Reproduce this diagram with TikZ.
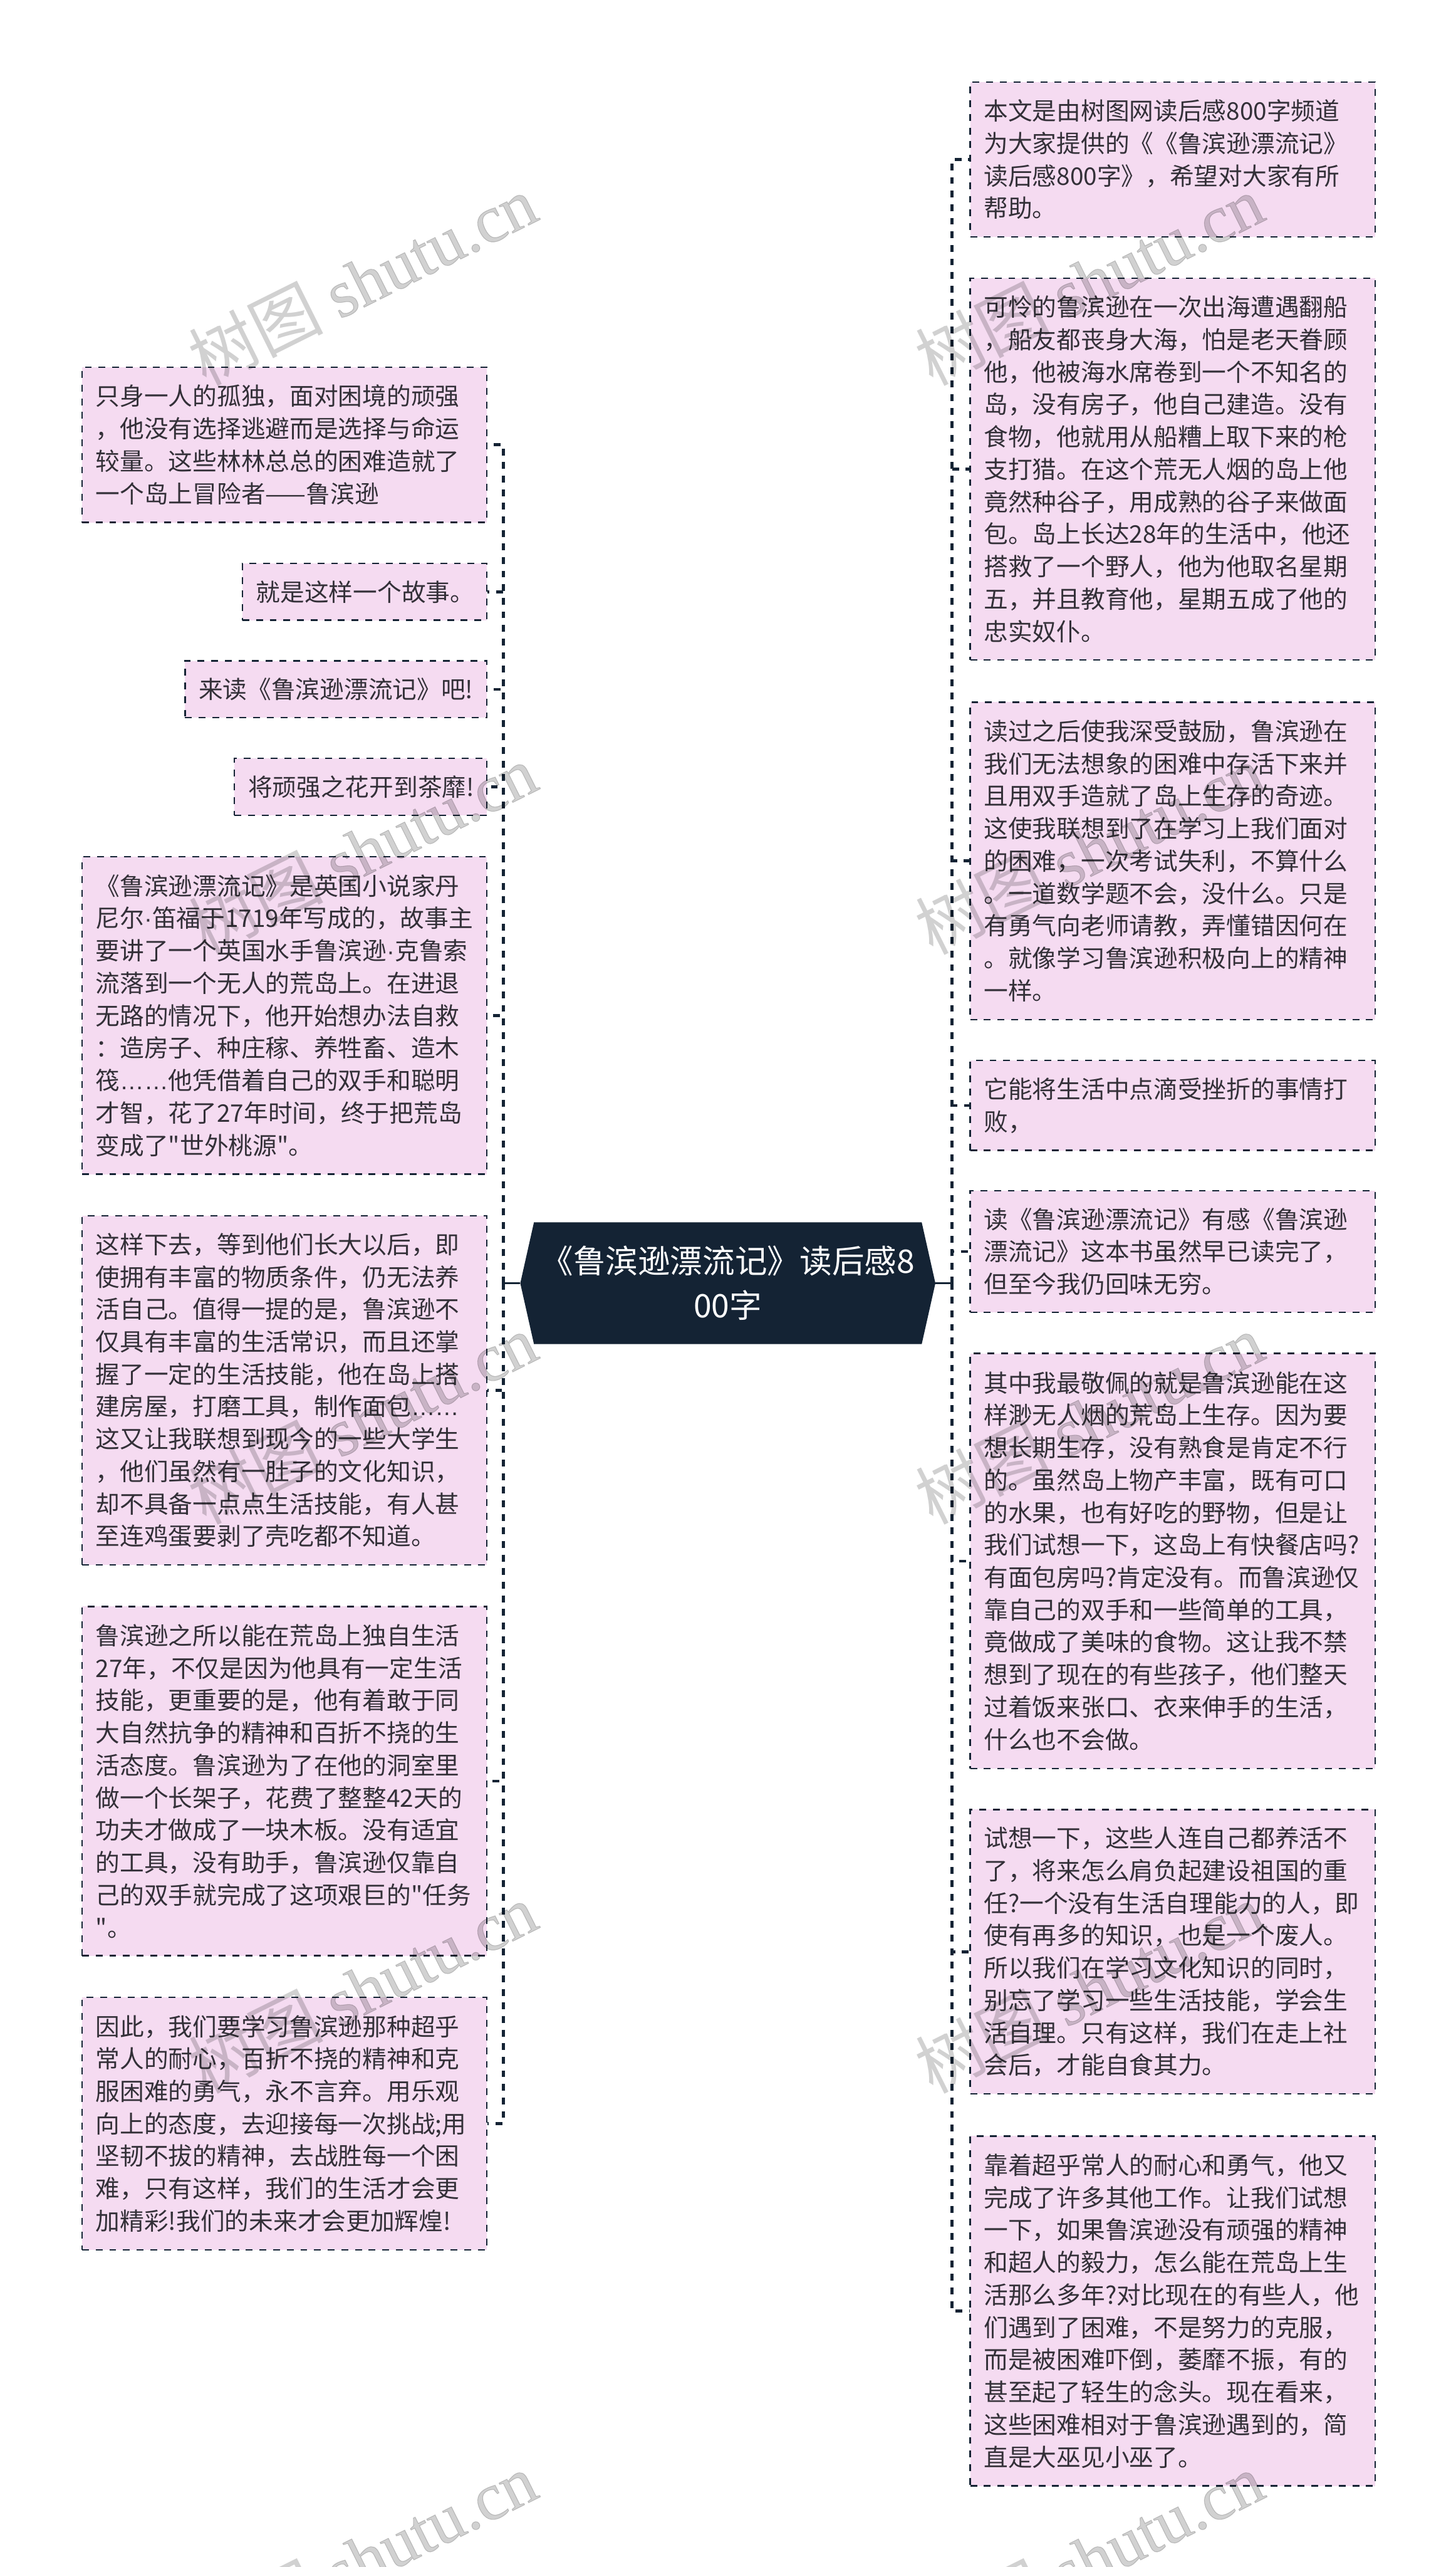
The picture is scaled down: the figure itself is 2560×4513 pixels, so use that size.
\documentclass[tikz,border=0pt]{standalone}
\usepackage{fontspec}
\newfontfamily\cjkf{Noto Sans CJK SC}
\newfontfamily\latinf{Liberation Sans}
\newfontfamily\wmlatin[FakeBold=1]{Liberation Serif}
\usetikzlibrary{shapes.symbols}
\definecolor{boxfill}{HTML}{F5DBF1}
\definecolor{navy}{HTML}{142334}
\definecolor{bodytext}{HTML}{333038}
\newcommand{\elip}{{\latinf ……}}
\newcommand{\mdot}{{\latinf ·}}
\tikzset{
  x=0.5pt,y=-0.5pt,
  leaf/.style={draw=navy,fill=boxfill,line width=1.35pt,dash pattern=on 6pt off 6pt,
    rectangle,anchor=north west,inner xsep=12pt,inner ysep=0pt,align=left,text=bodytext,
    execute at end node={\par\vskip4pt},
    font=\cjkf\fontsize{21.33pt}{28.5pt}\selectfont},
  conn/.style={draw=navy,line width=2.5pt,dash pattern=on 6pt off 5.93pt},
  stem/.style={draw=navy,line width=2pt},
  root/.style={signal,signal to=west and east,signal pointer angle=154.7,fill=navy,text=white,
    align=center,inner sep=0pt,minimum width=365pt,minimum height=107pt,
    font=\cjkf\fontsize{28.44pt}{39pt}\selectfont},
  wmark/.style={text=black,opacity=.18,rotate=26.5,anchor=base west,inner sep=0pt,
    font=\cjkf\fontsize{59pt}{66pt}\selectfont},
}
\begin{document}
\begin{tikzpicture}
\useasboundingbox (0,0) rectangle (2560,4513);
\clip (0,0) rectangle (2560,4513);
\coordinate (tl) at (885.5,0);
\coordinate (tr) at (1674,0);
\node[root] (c) at (1280,2256) {《鲁滨逊漂流记》读后感8\\00字};

\node[leaf,minimum width=356pt,text width=332pt,minimum height=136.5pt] (L1) at (143,644) {只身一人的孤独，面对困境的顽强\\，他没有选择逃避而是选择与命运\\较量。这些林林总总的困难造就了\\一个岛上冒险者——鲁滨逊};
\node[leaf,minimum width=215pt,text width=191pt,minimum height=50pt] (L2) at (425,989) {就是这样一个故事。};
\node[leaf,minimum width=265.5pt,text width=241.5pt,minimum height=50pt] (L3) at (324,1160.5) {来读《鲁滨逊漂流记》吧!};
\node[leaf,minimum width=222pt,text width=198pt,minimum height=50pt] (L4) at (411,1332) {将顽强之花开到茶靡!};
\node[leaf,minimum width=356pt,text width=332pt,minimum height=279pt] (L5) at (143,1505) {《鲁滨逊漂流记》是英国小说家丹\\尼尔\mdot 笛福于1719年写成的，故事主\\要讲了一个英国水手鲁滨逊\mdot 克鲁索\\流落到一个无人的荒岛上。在进退\\无路的情况下，他开始想办法自救\\：造房子、种庄稼、养牲畜、造木\\筏\elip 他凭借着自己的双手和聪明\\才智，花了27年时间，终于把荒岛\\变成了"世外桃源"。};
\node[leaf,minimum width=356pt,text width=332pt,minimum height=307pt] (L6) at (143,2136) {这样下去，等到他们长大以后，即\\使拥有丰富的物质条件，仍无法养\\活自己。值得一提的是，鲁滨逊不\\仅具有丰富的生活常识，而且还掌\\握了一定的生活技能，他在岛上搭\\建房屋，打磨工具，制作面包\elip\\这又让我联想到现今的一些大学生\\，他们虽然有一肚子的文化知识，\\却不具备一点点生活技能，有人甚\\至连鸡蛋要剥了壳吃都不知道。};
\node[leaf,minimum width=356pt,text width=332pt,minimum height=307pt] (L7) at (143,2823) {鲁滨逊之所以能在荒岛上独自生活\\27年，不仅是因为他具有一定生活\\技能，更重要的是，他有着敢于同\\大自然抗争的精神和百折不挠的生\\活态度。鲁滨逊为了在他的洞室里\\做一个长架子，花费了整整42天的\\功夫才做成了一块木板。没有适宜\\的工具，没有助手，鲁滨逊仅靠自\\己的双手就完成了这项艰巨的"任务\\"。};
\node[leaf,minimum width=356pt,text width=332pt,minimum height=222pt] (L8) at (143,3510) {因此，我们要学习鲁滨逊那种超乎\\常人的耐心，百折不挠的精神和克\\服困难的勇气，永不言弃。用乐观\\向上的态度，去迎接每一次挑战;用\\坚韧不拔的精神，去战胜每一个困\\难，只有这样，我们的生活才会更\\加精彩!我们的未来才会更加辉煌!};

\node[leaf,minimum width=356pt,text width=332pt,minimum height=136pt] (R1) at (1705,143) {本文是由树图网读后感800字频道\\为大家提供的《《鲁滨逊漂流记》\\读后感800字》，希望对大家有所\\帮助。};
\node[leaf,minimum width=356pt,text width=332pt,minimum height=335.5pt] (R2) at (1705,488) {可怜的鲁滨逊在一次出海遭遇翻船\\，船友都丧身大海，怕是老天眷顾\\他，他被海水席卷到一个不知名的\\岛，没有房子，他自己建造。没有\\食物，他就用从船糟上取下来的枪\\支打猎。在这个荒无人烟的岛上他\\竟然种谷子，用成熟的谷子来做面\\包。岛上长达28年的生活中，他还\\搭救了一个野人，他为他取名星期\\五，并且教育他，星期五成了他的\\忠实奴仆。};
\node[leaf,minimum width=356pt,text width=332pt,minimum height=279pt] (R3) at (1705,1233) {读过之后使我深受鼓励，鲁滨逊在\\我们无法想象的困难中存活下来并\\且用双手造就了岛上生存的奇迹。\\这使我联想到了在学习上我们面对\\的困难，一次考试失利，不算什么\\。一道数学题不会，没什么。只是\\有勇气向老师请教，弄懂错因何在\\。就像学习鲁滨逊积极向上的精神\\一样。};
\node[leaf,minimum width=356pt,text width=332pt,minimum height=79pt] (R4) at (1705,1863) {它能将生活中点滴受挫折的事情打\\败，};
\node[leaf,minimum width=356pt,text width=332pt,minimum height=107pt] (R5) at (1705,2092) {读《鲁滨逊漂流记》有感《鲁滨逊\\漂流记》这本书虽然早已读完了，\\但至今我仍回味无穷。};
\node[leaf,minimum width=356pt,text width=332pt,minimum height=365pt] (R6) at (1705,2378) {其中我最敬佩的就是鲁滨逊能在这\\样渺无人烟的荒岛上生存。因为要\\想长期生存，没有熟食是肯定不行\\的。虽然岛上物产丰富，既有可口\\的水果，也有好吃的野物，但是让\\我们试想一下，这岛上有快餐店吗?\\有面包房吗?肯定没有。而鲁滨逊仅\\靠自己的双手和一些简单的工具，\\竟做成了美味的食物。这让我不禁\\想到了现在的有些孩子，他们整天\\过着饭来张口、衣来伸手的生活，\\什么也不会做。};
\node[leaf,minimum width=356pt,text width=332pt,minimum height=250pt] (R7) at (1705,3180) {试想一下，这些人连自己都养活不\\了，将来怎么肩负起建设祖国的重\\任?一个没有生活自理能力的人，即\\使有再多的知识，也是一个废人。\\所以我们在学习文化知识的同时，\\别忘了学习一些生活技能，学会生\\活自理。只有这样，我们在走上社\\会后，才能自食其力。};
\node[leaf,minimum width=356pt,text width=332pt,minimum height=307.5pt] (R8) at (1705,3754) {靠着超乎常人的耐心和勇气，他又\\完成了许多其他工作。让我们试想\\一下，如果鲁滨逊没有顽强的精神\\和超人的毅力，怎么能在荒岛上生\\活那么多年?对比现在的有些人，他\\们遇到了困难，不是努力的克服，\\而是被困难吓倒，萎靡不振，有的\\甚至起了轻生的念头。现在看来，\\这些困难相对于鲁滨逊遇到的，简\\直是大巫见小巫了。};

\draw[stem] (c.west) -- (c.west -| tl);
\draw[stem] (c.east) -- (c.east -| tr);
\foreach \n in {L1,L2,L3,L4,L5,L6,L7,L8}
  \draw[conn] (c.west -| tl) |- (\n.east);
\foreach \n in {R1,R2,R3,R4,R5,R6,R7,R8}
  \draw[conn] (c.east -| tr) |- (\n.west);

\foreach \ox in {0,1278}
  \foreach \oy in {0,1001,2002,3003,4004}
    \node[wmark] (wm\ox-\oy) at (362+\ox,679+\oy) {树图 {\wmlatin shutu.cn}};
\end{tikzpicture}
\end{document}
